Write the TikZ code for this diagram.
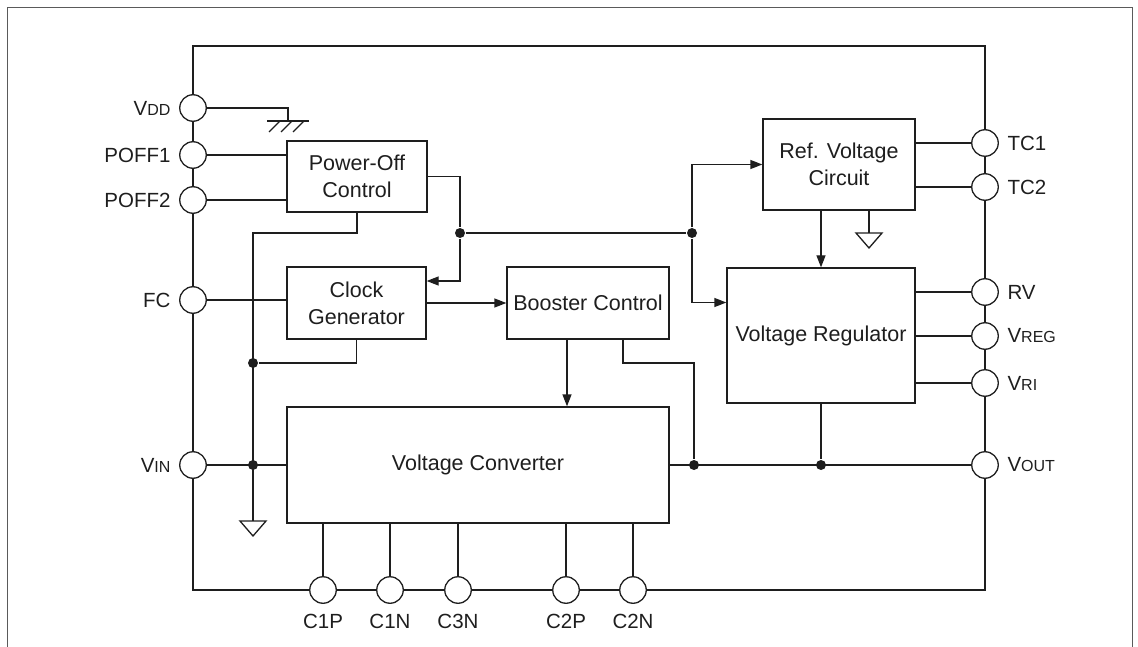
\documentclass[tikz,border=0pt]{standalone}
\usepackage{fontspec}
\setmainfont{Liberation Sans}
\usepackage{tikz}
\usetikzlibrary{arrows.meta,calc}
\definecolor{ChipInk}{HTML}{1E1E1E}
\definecolor{FrameGray}{HTML}{5A5A5A}
\newcommand{\pinsub}[1]{{\fontsize{16}{18}\selectfont #1}}

\begin{document}
\begin{tikzpicture}[x=1pt,y=-1pt,line width=1.3pt,color=ChipInk,
  every node/.style={align=center,font=\fontsize{20.5}{26}\selectfont},
  block/.style={draw,rectangle,fill=white,inner sep=0pt,font=\fontsize{21.5}{27}\selectfont},
  pinc/.style={draw,circle,fill=white,minimum size=26.5pt,inner sep=0pt},
  pinlbl/.style={inner sep=8pt},
  dot/.style={circle,fill=ChipInk,minimum size=10pt,inner sep=0pt},
  sig/.style={-{Triangle[length=12pt,width=9pt]}}]
  \useasboundingbox (0,0) rectangle (1138,647);
  % sheet frame and chip outline
  \draw[FrameGray,line width=0.9pt] (7,647) -- (7,7) -- (1132,7) -- (1132,647);
  \draw (193,46) rectangle (985,590);

  % function blocks
  \node[block,minimum width=140pt,minimum height=71pt] (pwr)  at (357,176.5) {Power-Off\\Control};
  \node[block,minimum width=139pt,minimum height=72pt] (clk)  at (356.5,303) {Clock\\Generator};
  \node[block,minimum width=162pt,minimum height=72pt] (boost) at (588,303) {Booster Control};
  \node[block,minimum width=382pt,minimum height=116pt] (conv) at (478,465) {Voltage Converter};
  \node[block,minimum width=152pt,minimum height=91pt] (ref)  at (839,164.5) {Ref. Voltage\\Circuit};
  \node[block,minimum width=188pt,minimum height=135pt] (reg)  at (821,335.5) {Voltage Regulator};

  % junctions and grounds
  \node[dot] (j1) at (460,233) {};
  \node[dot] (j2) at (692,233) {};
  \node[dot] (j4) at (253,363) {};
  \node[dot] (j5) at (253,465) {};
  \node[dot] (j6) at (694,465) {};
  \node[dot] (j7) at (821,465) {};
  \coordinate (gndV) at (288,121);
  \coordinate (gndL) at (253,521);
  \coordinate (gndR) at (869,233);
  \coordinate (b1) at ($(boost.south)+(-21,0)$);
  \coordinate (b2) at ($(boost.south)+(35,0)$);

  % pins
  \node[pinc] (vdd)   at (193,108) {};
  \node[pinc] (poff1) at (193,155) {};
  \node[pinc] (poff2) at (193,200) {};
  \node[pinc] (fc)    at (193,300) {};
  \node[pinc] (vin)   at (193,465) {};
  \node[pinc] (tc1)   at (985,143) {};
  \node[pinc] (tc2)   at (985,187) {};
  \node[pinc] (rv)    at (985,292) {};
  \node[pinc] (vreg)  at (985,336) {};
  \node[pinc] (vri)   at (985,383) {};
  \node[pinc] (vout)  at (985,465) {};
  \node[pinc] (c1p)   at (323,590) {};
  \node[pinc] (c1n)   at (390,590) {};
  \node[pinc] (c3n)   at (458,590) {};
  \node[pinc] (c2p)   at (566,590) {};
  \node[pinc] (c2n)   at (633,590) {};

  \node[pinlbl,anchor=east] (vddT)   at (vdd.west)   {V\pinsub{DD}};
  \node[pinlbl,anchor=east] (poff1T) at (poff1.west) {POFF1};
  \node[pinlbl,anchor=east] (poff2T) at (poff2.west) {POFF2};
  \node[pinlbl,anchor=east] (fcT)    at (fc.west)    {FC};
  \node[pinlbl,anchor=east] (vinT)   at (vin.west)   {V\pinsub{IN}};
  \node[pinlbl,anchor=west] (tc1T)   at (tc1.east)   {TC1};
  \node[pinlbl,anchor=west] (tc2T)   at (tc2.east)   {TC2};
  \node[pinlbl,anchor=west] (rvT)    at (rv.east)    {RV};
  \node[pinlbl,anchor=west] (vregT)  at (vreg.east)  {V\pinsub{REG}};
  \node[pinlbl,anchor=west] (vriT)   at (vri.east)   {V\pinsub{RI}};
  \node[pinlbl,anchor=west] (voutT)  at (vout.east)  {V\pinsub{OUT}};
  \foreach \p/\t in {c1p/C1P,c1n/C1N,c3n/C3N,c2p/C2P,c2n/C2N}
    \node[anchor=base,inner sep=0pt] (\p T) at ($(\p)+(0,38)$) {\t};

  % pin wiring
  \draw (vdd.east) -| (gndV);
  \draw ($(gndV)+(-21,0)$) -- ($(gndV)+(21,0)$);
  \foreach \x in {-19,-7,5}
    \draw[line width=1.1pt] ($(gndV)+(\x,11)$) -- ++(11,-11);
  \draw (poff1.east) -- (poff1 -| pwr.west);
  \draw (poff2.east) -- (poff2 -| pwr.west);
  \draw (fc.east) -- (fc -| clk.west);
  \draw (vin.east) -- (vin -| conv.west);
  \draw (ref.east |- tc1) -- (tc1.west);
  \draw (ref.east |- tc2) -- (tc2.west);
  \draw (reg.east |- rv) -- (rv.west);
  \draw (reg.east |- vreg) -- (vreg.west);
  \draw (reg.east |- vri) -- (vri.west);
  \draw (conv.east) -- (vout.west);
  \foreach \p in {c1p,c1n,c3n,c2p,c2n}
    \draw (\p.north) -- (\p |- conv.south);

  % internal signals
  \draw[sig] (pwr.east) -| (j1) |- ($(clk.east)+(0,-22)$);
  \draw (j1) -- (j2);
  \draw[sig] (j2) |- (ref.west);
  \draw[sig] (j2) |- ($(reg.west)+(0,-33)$);
  \draw (pwr.south) |- (gndL |- j1) -- (gndL);
  \draw (clk.south) |- (j4);
  \draw[sig] (clk.east) -- (boost.west);
  \draw[sig] (b1) -- (b1 |- conv.north);
  \draw (b2) -- (b2 |- j4) -| (j6);
  \draw[sig] (reg.north |- ref.south) -- (reg.north);
  \draw (reg.south) -- (j7);
  \draw (ref.south -| gndR) -- (gndR);
  \draw (gndL) ++(-13,0) -- ++(26,0) -- ++(-13,15) -- cycle;
  \draw (gndR) ++(-13,0) -- ++(26,0) -- ++(-13,15) -- cycle;
\end{tikzpicture}
\end{document}
